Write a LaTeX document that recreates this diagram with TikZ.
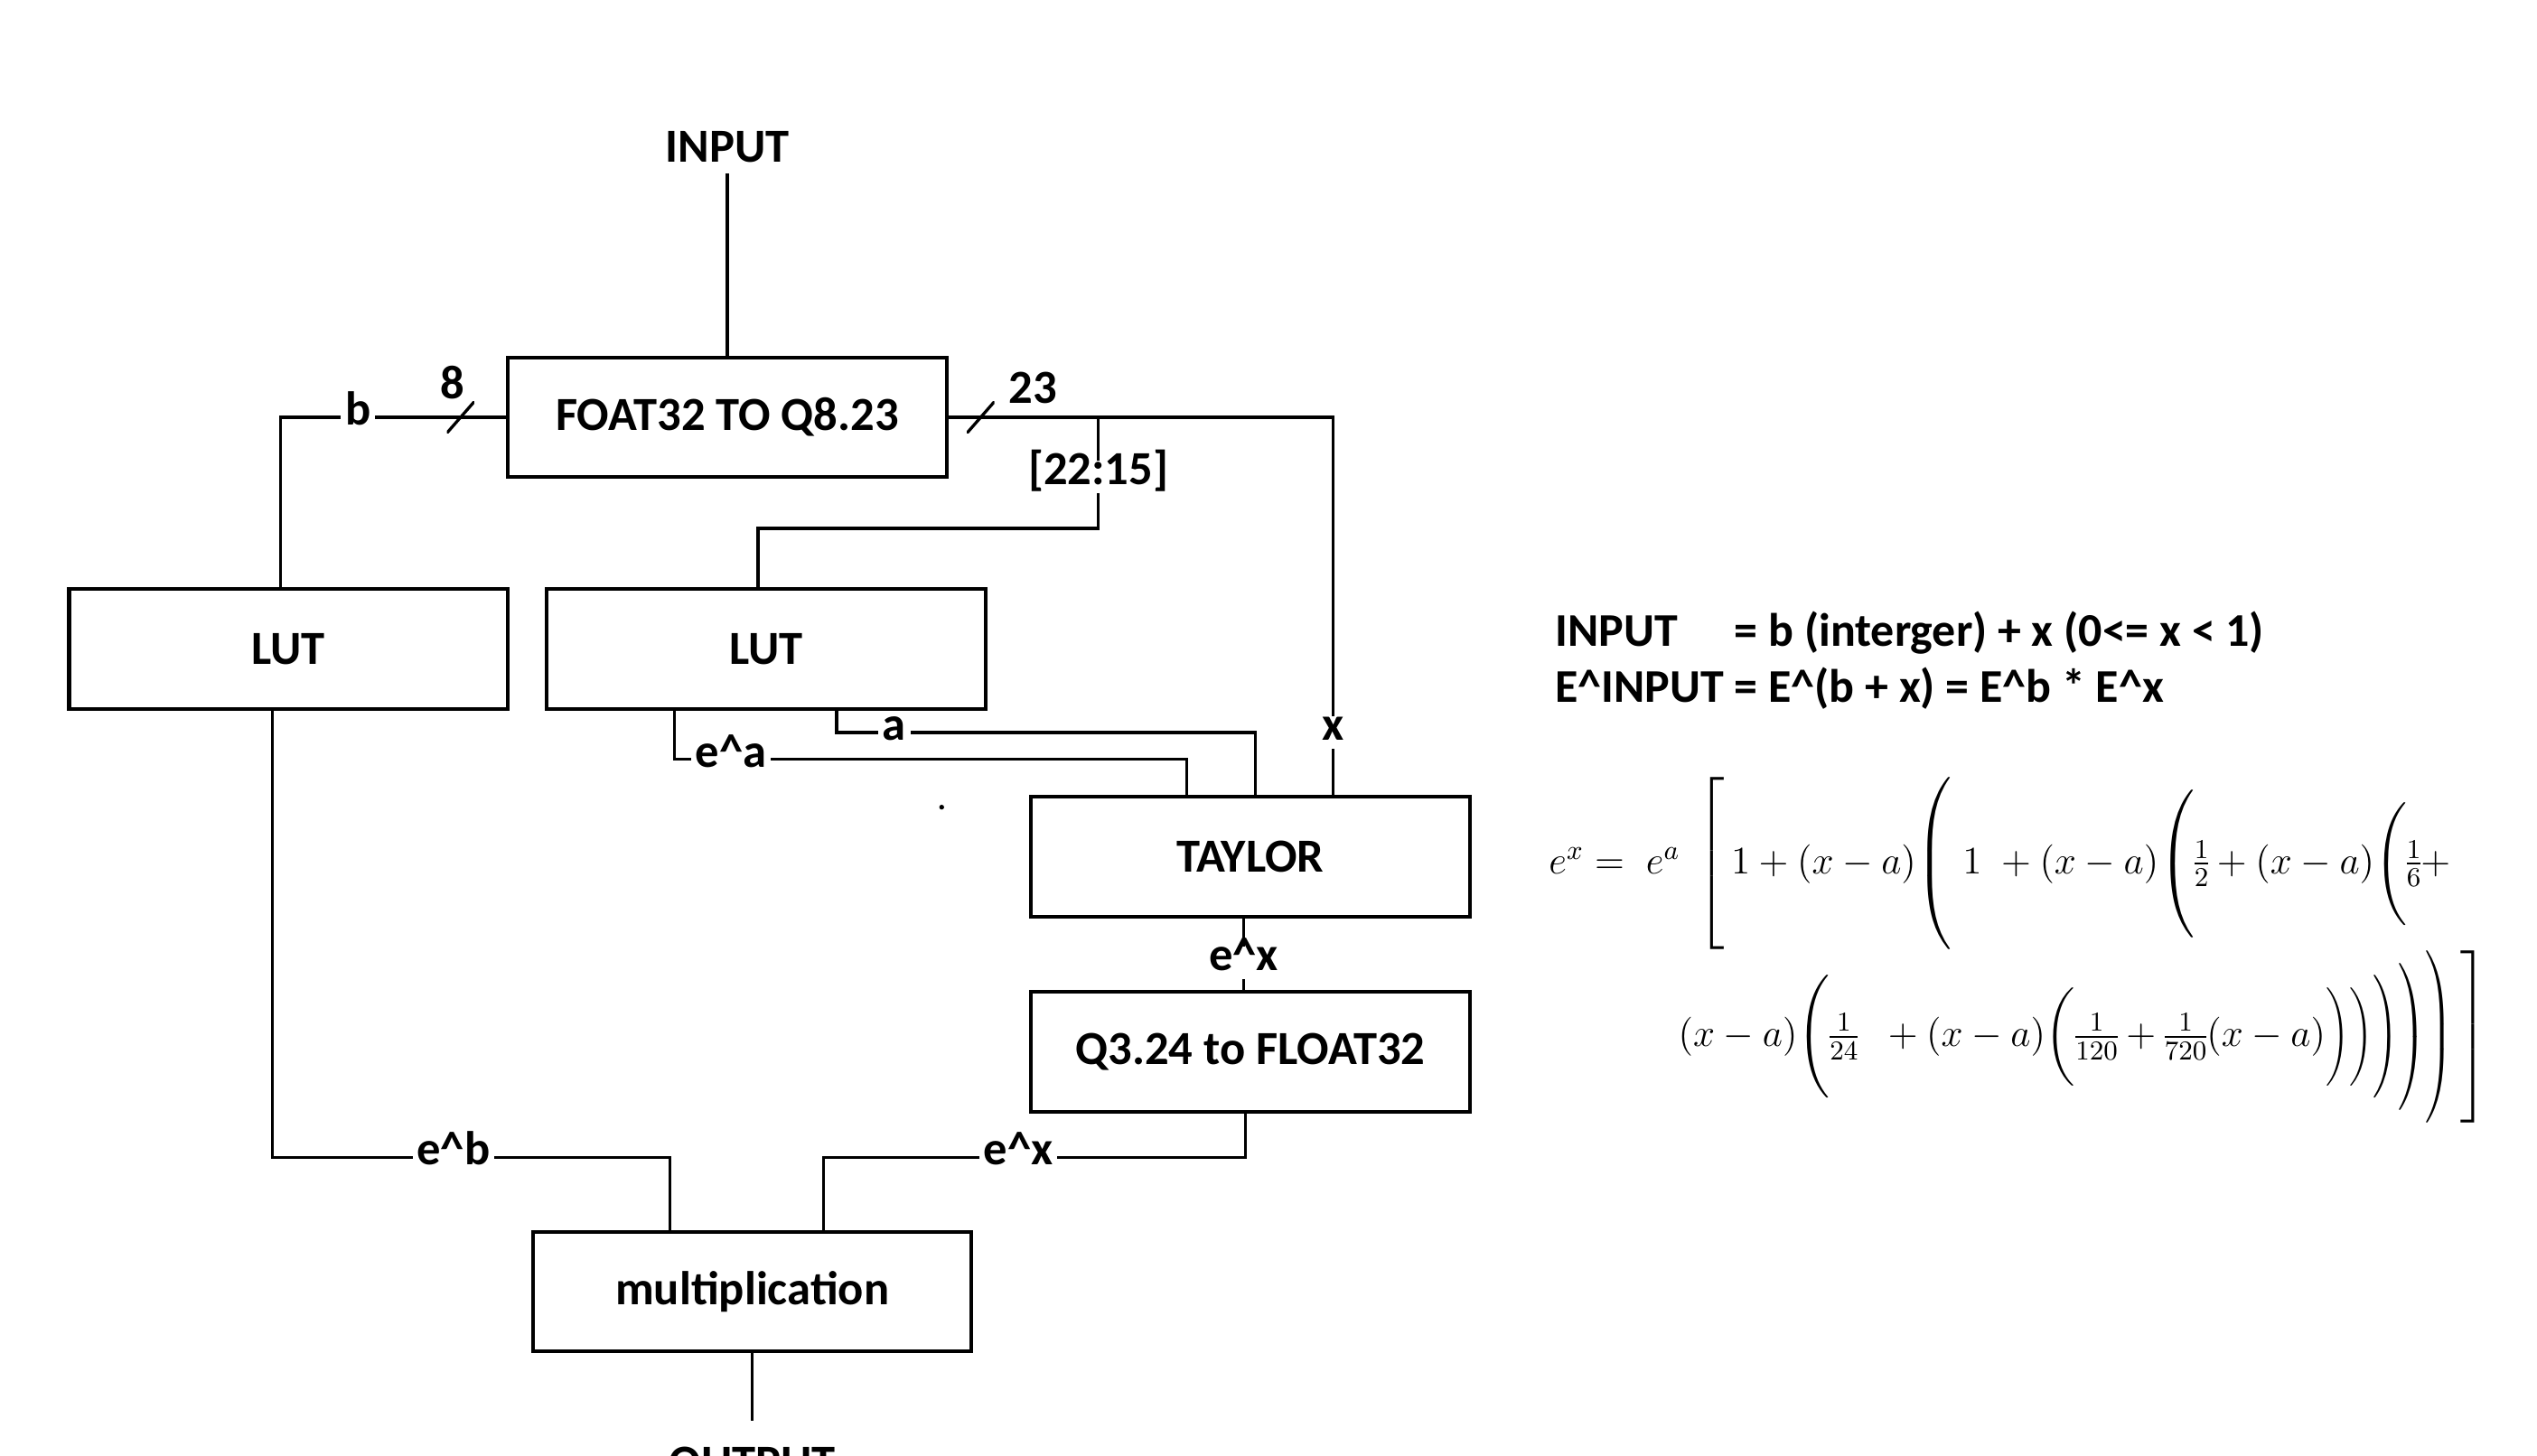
\RequirePackage{fix-cm}
\documentclass[tikz,border=0pt]{standalone}
\usepackage{amsmath}
\usepackage{graphicx}
\usepackage[no-math]{fontspec}
\newfontfamily\blockfont{Carlito}
\usetikzlibrary{positioning}

\newcommand\dstrut[1]{\vrule height\dimexpr(#1)/2+3.4pt\relax depth\dimexpr(#1)/2-3.4pt\relax width0pt}
\newcommand\rclose[1]{\mathclose{\scalebox{0.78}[1]{$\left.\dstrut{#1}\right)$}}}

\begin{document}
\begin{tikzpicture}[
    wire/.style = {line width=1.05pt}, % connector lines
    node distance = 1cm,
    font = \blockfont\bfseries\fontsize{16.7}{20}\selectfont
]

\tikzstyle{block}=[
    draw,
    line width = 1.3pt,
    minimum width = 5.42cm,
    minimum height = 1.48cm,
]
\tikzstyle{lbl}=[fill=white, inner sep=1.5pt, text height=0.7em, text depth=0.15em]
\tikzstyle{bwidth}=[inner sep=1pt]
\tikzstyle{busmark}=[
    inner sep = 0pt,
    minimum width = 0.34cm,
    minimum height = 0.39cm,
    path picture = {\draw[line width=1.05pt] (path picture bounding box.south west) -- (path picture bounding box.north east);}
]

\useasboundingbox (0,0) rectangle (31.36,-18);

\node[block] (conv) at (8.99,-5.16) {FOAT32 TO Q8.23};
\node[inner sep=3.7pt] (in_lbl) [above=2.25cm of conv] {INPUT};
\node[block] (lutb) [below left=1.34cm and -0.04cm of conv] {LUT};
\node[block] (luta) [right=0.44cm of lutb] {LUT};
\node[block] (taylor) [below right=1.04cm and 0.52cm of luta] {TAYLOR};
\node[block] (q2f) [below=0.89cm of taylor] {Q3.24 to FLOAT32};
\node[block] (mult) [below=6.42cm of luta, xshift=-0.17cm] {multiplication};
\node[inner sep=3.7pt] (out_lbl) [below=1.02cm of mult] {OUTPUT};

\draw[wire] (in_lbl) -- (conv);
\draw[wire] (conv.west) -|
node[busmark, pos=0.101, label={[bwidth, xshift=-0.1cm, label distance=-0.04cm]above:8}] {}
node[lbl, pos=0.328] {b} ([xshift=-0.1cm]lutb.north);
\draw[wire] (conv.east) -| coordinate[pos=0.195] (tap)
node[busmark, pos=0.042, label={[bwidth, xshift=0.11cm, yshift=-0.07cm]above right:23}] {}
node[lbl, pos=0.917] {x} ([xshift=1.02cm]taylor.north);
\draw[wire] (tap) |- node[lbl, pos=0.268] {[22:15]}
([xshift=-0.1cm, yshift=0.73cm]luta.north) -- ([xshift=-0.1cm]luta.north);

\draw[wire] ([xshift=-1.13cm]luta.south) |- node[lbl, pos=0.555] {e\textasciicircum a}
([xshift=-0.79cm, yshift=0.44cm]taylor.north) -- ([xshift=-0.79cm]taylor.north);
\draw[wire] ([xshift=0.87cm]luta.south) |- node[lbl, pos=0.569] {a}
([xshift=0.06cm, yshift=0.77cm]taylor.north) -- ([xshift=0.06cm]taylor.north);
\draw[wire] ([xshift=-0.08cm]taylor.south) -- node[lbl, pos=0.62] {e\textasciicircum x} ([xshift=-0.08cm]q2f.north);

\draw[wire] ([xshift=-0.2cm]lutb.south) |- node[lbl, pos=0.728] {e\textasciicircum b}
([xshift=-1.02cm, yshift=0.9cm]mult.north) -- ([xshift=-1.02cm]mult.north);
\draw[wire] ([xshift=-0.06cm]q2f.south) |- node[lbl, pos=0.769] {e\textasciicircum x}
([xshift=0.88cm, yshift=0.9cm]mult.north) -- ([xshift=0.88cm]mult.north);
\draw[wire, shorten >=0.19cm] (mult) -- (out_lbl);

\fill (11.64,-9.98) circle (0.03);

% exponent identity and series
\node[anchor=west, inner sep=0pt, font=\blockfont\bfseries\fontsize{16.5}{19.8}\selectfont] (ident) at (19.22,-8.2) {\begin{tabular}{@{}l@{ }l@{}}
INPUT & = b (interger) + x (0<= x < 1)\\
E\textasciicircum INPUT & = E\textasciicircum(b + x) = E\textasciicircum b * E\textasciicircum x
\end{tabular}};

\node[anchor=west, inner sep=0pt, font=\normalfont\fontsize{13.7}{16}\selectfont] (expan1) at (19.14,-10.68) {%
\delimiterfactor=1000 \delimitershortfall=0pt \nulldelimiterspace=0pt
$e^{x} = \; e^{a}\;\left[\dstrut{58pt}\,1+(x-a)\!\left(\dstrut{58pt}\;1\;+(x-a)\!\left(\dstrut{50pt}\tfrac{1}{2}+(x-a)\!\left(\dstrut{39pt}\tfrac{1}{6}+\right.\right.\right.\right.$};

\node[anchor=west, inner sep=0pt, font=\normalfont\fontsize{13.7}{16}\selectfont] (expan2) at (20.74,-12.82) {%
\delimiterfactor=1000 \delimitershortfall=0pt \nulldelimiterspace=0pt
$(x-a)\!\left(\dstrut{34pt}\tfrac{1}{24}\;\;+(x-a)\!\left(\dstrut{27pt}\tfrac{1}{120}+\tfrac{1}{720}(x-a)\right.\right.\rclose{27pt}\rclose{34pt}\rclose{39pt}\rclose{50pt}\rclose{58pt}\left.\dstrut{58pt}\right]$};
\end{tikzpicture}
\end{document}
